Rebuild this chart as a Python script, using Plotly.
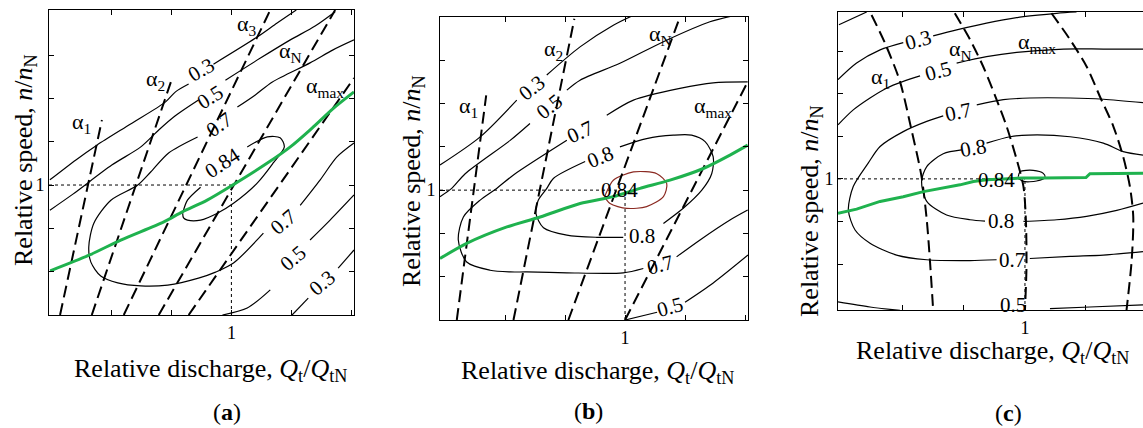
import plotly.graph_objects as go

# ---------------- Panel (a) data ----------------
A_GREEN_X = [0.394, 0.524, 0.630, 0.774, 0.836, 0.919, 1.000, 1.119, 1.197, 1.269, 1.341, 1.410]
A_GREEN_Y = [0.802, 0.838, 0.873, 0.915, 0.938, 0.965, 0.998, 1.050, 1.088, 1.131, 1.177, 1.215]

A_ALPHA1_X = [0.427, 0.567]; A_ALPHA1_Y = [0.70, 1.150]
A_ALPHA2_X = [0.533, 0.803]; A_ALPHA2_Y = [0.70, 1.249]
A_ALPHA3_X = [0.640, 1.130]; A_ALPHA3_Y = [0.70, 1.404]
A_ALPHAN_X = [0.757, 1.347]; A_ALPHAN_Y = [0.70, 1.404]
A_ALPHAMAX_X = [0.857, 1.410]; A_ALPHAMAX_Y = [0.70, 1.247]

A_C03U_X = [0.393, 0.48, 0.55, 0.663, 0.78, 0.813, 0.857, None, 0.94, 1.087, 1.153, 1.217]
A_C03U_Y = [1.012, 1.058, 1.092, 1.141, 1.192, 1.215, 1.233, None, 1.279, 1.342, 1.374, 1.404]
A_C05U_X = [0.393, 0.47, 0.6, 0.697, 0.757, 0.807, 0.89, None, 0.98, 1.097, 1.197, 1.28, 1.347]
A_C05U_Y = [0.942, 0.979, 1.046, 1.088, 1.127, 1.157, 1.196, None, 1.242, 1.293, 1.335, 1.367, 1.40]
A_C07_X = [1.41, 1.34, 1.263, 1.137, 1.08, 1.02, None, 0.887, 0.79, 0.73, 0.687, 0.597, 0.54, 0.523,
           0.53, 0.563, 0.62, 0.697, 0.787, 0.89, 0.947, 1.007, 1.107, None, 1.23, 1.297, 1.353, 1.41]
A_C07_Y = [1.335, 1.312, 1.282, 1.238, 1.208, 1.18, None, 1.111, 1.074, 1.03, 1.0, 0.965, 0.912, 0.857,
           0.822, 0.79, 0.774, 0.767, 0.769, 0.785, 0.799, 0.82, 0.889, None, 0.953, 1.012, 1.065, 1.097]
A_C084_X = [0.837, 0.853, 0.897, None, 1.053, 1.12, 1.163, 1.177, 1.14, 1.087, 1.007, 0.953, 0.897, 0.853, 0.84, 0.837]
A_C084_Y = [0.935, 0.965, 0.995, None, 1.088, 1.111, 1.109, 1.088, 1.051, 1.005, 0.958, 0.935, 0.919, 0.919, 0.924, 0.935]
A_C05L_X = [0.97, 1.053, 1.13, None, 1.263, 1.33, 1.41]
A_C05L_Y = [0.70, 0.716, 0.758, None, 0.873, 0.919, 0.977]
A_C03L_X = [1.203, 1.257, None, 1.357, 1.41]
A_C03L_Y = [0.70, 0.739, None, 0.808, 0.85]

A_LBL_TEXT = ["0.3", "0.5", "0.7", "0.84", "0.7", "0.5", "0.3"]
A_LBL_X = [0.897, 0.93, 0.957, 0.97, 1.173, 1.207, 1.303]
A_LBL_Y = [1.266, 1.203, 1.139, 1.051, 0.915, 0.831, 0.774]
A_LBL_ANG = [-30, -32, -35, -33, -40, -40, -40]

A_ALBL_TEXT = ["α<sub>1</sub>", "α<sub>2</sub>", "α<sub>3</sub>", "α<sub>N</sub>", "α<sub>max</sub>"]
A_ALBL_X = [0.497, 0.747, 1.053, 1.197, 1.313]
A_ALBL_Y = [1.143, 1.242, 1.370, 1.307, 1.226]

# ---------------- Panel (b) data ----------------
B_GREEN_X = [0.383, 0.472, 0.606, 0.717, 0.85, 0.961, 1.05, 1.15, 1.261, 1.35, 1.409]
B_GREEN_Y = [0.842, 0.877, 0.915, 0.938, 0.969, 0.985, 1.004, 1.023, 1.05, 1.081, 1.104]

B_ALPHA1_X = [0.439, 0.537]; B_ALPHA1_Y = [0.70, 1.219]
B_ALPHA2_X = [0.628, 0.831]; B_ALPHA2_Y = [0.70, 1.396]
B_ALPHAN_X = [0.811, 1.183]; B_ALPHAN_Y = [0.70, 1.40]
B_ALPHAMAX_X = [1.0, 1.409]; B_ALPHAMAX_Y = [0.70, 1.25]

B_C03_X = [0.383, 0.517, 0.639, None, 0.739, 0.85, 0.961, 1.028]
B_C03_Y = [1.058, 1.123, 1.208, None, 1.266, 1.331, 1.381, 1.404]
B_C05_X = [0.383, 0.422, 0.467, 0.617, 0.683, None, 0.806, 0.85, 0.983, 1.128, 1.283, 1.409]
B_C05_Y = [0.985, 1.004, 1.038, 1.115, 1.154, None, 1.231, 1.254, 1.293, 1.343, 1.389, 1.41]
B_C07_X = [1.409, 1.294, 1.183, 1.028, 0.939, None, 0.806, 0.628, 0.572, 0.517, 0.461, 0.444, 0.472, 0.55,
           0.617, 0.672, 0.806, 0.994, 1.061, None, 1.172, 1.25, 1.35, 1.409]
B_C07_Y = [1.25, 1.248, 1.235, 1.208, 1.173, None, 1.115, 1.035, 1.004, 0.977, 0.938, 0.885, 0.834, 0.815,
           0.811, 0.811, 0.809, 0.809, 0.819, None, 0.846, 0.885, 0.931, 0.954]
B_C08_X = [0.983, 1.072, 1.161, 1.222, 1.267, 1.294, 1.289, 1.256, 1.194, 1.128, None, 0.994, 0.906, 0.806,
           0.728, 0.703, 0.711, 0.739, 0.761, 0.867]
B_C08_Y = [1.1, 1.119, 1.127, 1.127, 1.112, 1.077, 1.038, 1.0, 0.958, 0.923, None, 0.891, 0.891, 0.896,
           0.913, 0.946, 0.977, 1.004, 1.027, 1.066]
B_C084_X = [0.939, 0.961, 1.028, 1.106, 1.139, 1.128, 1.072, 1.006, 0.95, 0.933, 0.939]
B_C084_Y = [0.996, 1.023, 1.042, 1.038, 1.015, 0.985, 0.962, 0.958, 0.969, 0.985, 0.996]
B_C05L_X = [1.0, 1.107, None, 1.2, 1.293, 1.41]
B_C05L_Y = [0.70, 0.718, None, 0.741, 0.785, 0.85]

B_LBL_TEXT = ["0.3", "0.5", "0.7", "0.8", "0.84", "0.8", "0.7", "0.5"]
B_LBL_X = [0.689, 0.745, 0.85, 0.917, 0.983, 1.056, 1.115, 1.15]
B_LBL_Y = [1.235, 1.193, 1.135, 1.077, 1.0, 0.893, 0.828, 0.729]
B_LBL_ANG = [-38, -38, -25, -22, 0, 0, -15, -15]

B_ALBL_TEXT = ["α<sub>1</sub>", "α<sub>2</sub>", "α<sub>N</sub>", "α<sub>max</sub>"]
B_ALBL_X = [0.478, 0.760, 1.117, 1.294]
B_ALBL_Y = [1.192, 1.323, 1.358, 1.192]

# ---------------- Panel (c) data ----------------
C_GREEN_X = [0.387, 0.448, 0.525, 0.601, 0.667, 0.732, 0.787, 0.831, 0.874, 0.929, 0.995, 1.06, 1.148, 1.2, 1.213, 1.387]
C_GREEN_Y = [0.919, 0.929, 0.947, 0.958, 0.97, 0.978, 0.986, 0.994, 0.998, 1.0, 1.002, 1.002, 1.003, 1.003, 1.012, 1.013]

C_ALPHA1_X = [0.497, 0.541, 0.59, 0.628, 0.661, 0.678, 0.689, 0.699]
C_ALPHA1_Y = [1.385, 1.319, 1.229, 1.115, 1.005, 0.904, 0.802, 0.692]
C_ALPHAN_X = [0.77, 0.82, 0.863, 0.907, 0.94, 0.973, 0.995, 1.003, 1.005, 1.0]
C_ALPHAN_Y = [1.389, 1.327, 1.264, 1.186, 1.123, 1.045, 0.982, 0.904, 0.794, 0.692]
C_ALPHAMAX_X = [1.087, 1.148, 1.202, 1.246, 1.29, 1.322, 1.344, 1.355, 1.35, 1.333]
C_ALPHAMAX_Y = [1.389, 1.327, 1.264, 1.193, 1.123, 1.052, 0.982, 0.912, 0.81, 0.692]

C_CTL_X = [0.39, 0.481]; C_CTL_Y = [1.362, 1.392]
C_C03_X = [0.387, 0.448, 0.525, 0.601, None, 0.699, 0.776, 0.874, 0.995, 1.104, 1.169]
C_C03_Y = [1.233, 1.272, 1.303, 1.32, None, 1.336, 1.35, 1.366, 1.381, 1.389, 1.392]
C_C05_X = [0.387, 0.437, 0.492, 0.546, 0.601, 0.656, None, 0.776, 0.874, 0.973, 1.126, 1.257, 1.387]
C_C05_Y = [1.127, 1.162, 1.19, 1.213, 1.229, 1.242, None, 1.272, 1.287, 1.297, 1.305, 1.305, 1.305]
C_C07_X = [1.387, 1.257, 1.148, 1.016, 0.929, 0.842, None, 0.732, 0.678, 0.601, 0.525, 0.486, 0.437, 0.421,
           0.443, 0.492, 0.579, 0.678, 0.82, 0.907, None, 1.016, 1.148, 1.257, 1.387]
C_C07_Y = [1.179, 1.187, 1.19, 1.19, 1.186, 1.174, None, 1.148, 1.135, 1.111, 1.076, 1.037, 0.982, 0.927,
           0.88, 0.849, 0.821, 0.81, 0.808, 0.81, None, 0.813, 0.818, 0.821, 0.829]
C_C08_X = [1.387, 1.322, 1.257, 1.148, 1.011, 0.951, 0.874, None, 0.792, 0.732, 0.678, 0.661, 0.678, 0.743,
           0.82, 0.869, None, 0.995, 1.104, 1.202, 1.301, 1.387]
C_C08_Y = [1.056, 1.064, 1.084, 1.099, 1.103, 1.099, 1.084, None, 1.068, 1.059, 1.029, 0.994, 0.947, 0.915,
           0.904, 0.901, None, 0.9, 0.904, 0.912, 0.926, 0.943]
C_C084_X = [0.978, 0.984, 1.027, 1.06, 1.066, 1.038, 0.995, 0.978]
C_C084_Y = [1.005, 1.017, 1.02, 1.013, 1.004, 0.995, 0.994, 1.002]
C_C05L_X = [0.387, 0.492, 0.59, None, 1.082, 1.213, 1.387]
C_C05L_Y = [0.711, 0.699, 0.691, None, 0.695, 0.699, 0.704]

C_LBL_TEXT = ["0.3", "0.5", "0.7", "0.8", "0.84", "0.8", "0.7", "0.5"]
C_LBL_X = [0.65, 0.716, 0.781, 0.831, 0.907, 0.923, 0.956, 0.961]
C_LBL_Y = [1.327, 1.254, 1.158, 1.072, 0.998, 0.9, 0.81, 0.703]
C_LBL_ANG = [-15, -15, -12, -10, 0, 0, 0, 0]

C_ALBL_TEXT = ["α<sub>1</sub>", "α<sub>N</sub>", "α<sub>max</sub>"]
C_ALBL_X = [0.525, 0.787, 1.038]
C_ALBL_Y = [1.236, 1.303, 1.319]

# ---------------- axes / tick labels ----------------
X_MAJOR = [1.0]
X_MAJOR_TEXT = ["1"]
X_MINOR = [0.6, 0.8, 1.2, 1.4]
Y_MAJOR = [1.0]
Y_MAJOR_TEXT = ["1"]
Y_MINOR = [0.8, 0.9, 1.1, 1.2, 1.3]

XLABEL = "Relative discharge, <i>Q</i><sub>t</sub>/<i>Q</i><sub>tN</sub>"
YLABEL = "Relative speed, <i>n</i>/<i>n</i><sub>N</sub>"
PANEL_LABELS = ["(<b>a</b>)", "(<b>b</b>)", "(<b>c</b>)"]

W, H = 1143, 428
SERIF = "Liberation Serif, Times New Roman, serif"
GREEN = "#1fb24e"
DASH = "12px,6px"

fig = go.Figure()


def line(x, y, ax, color="black", width=1.2, dash="solid", smooth=True):
    fig.add_trace(go.Scatter(x=x, y=y, mode="lines", xaxis="x" + ax, yaxis="y" + ax,
                             line=dict(color=color, width=width, dash=dash,
                                       shape=("spline" if smooth else "linear"),
                                       smoothing=0.8),
                             hoverinfo="skip", showlegend=False))


def labels(texts, xs, ys, ax, angles=None, size=21):
    for i, t in enumerate(texts):
        fig.add_annotation(x=xs[i], y=ys[i], xref="x" + ax, yref="y" + ax, text=t,
                           showarrow=False, textangle=(angles[i] if angles else 0),
                           xanchor="center", yanchor="middle",
                           font=dict(family=SERIF, size=size, color="black"))


def dotted(ax, xmin, ymin):
    line([xmin, 1.0], [1.0, 1.0], ax, width=1, dash="dot", smooth=False)
    line([1.0, 1.0], [ymin, 1.0], ax, width=1, dash="dot", smooth=False)


# Panel a
line(A_C03U_X, A_C03U_Y, "")
line(A_C05U_X, A_C05U_Y, "")
line(A_C07_X, A_C07_Y, "")
line(A_C084_X, A_C084_Y, "")
line(A_C05L_X, A_C05L_Y, "")
line(A_C03L_X, A_C03L_Y, "")
dotted("", 0.39, 0.70)
for xs, ys in [(A_ALPHA1_X, A_ALPHA1_Y), (A_ALPHA2_X, A_ALPHA2_Y), (A_ALPHA3_X, A_ALPHA3_Y),
               (A_ALPHAN_X, A_ALPHAN_Y), (A_ALPHAMAX_X, A_ALPHAMAX_Y)]:
    line(xs, ys, "", width=2, dash=DASH, smooth=False)
line(A_GREEN_X, A_GREEN_Y, "", color=GREEN, width=3)
labels(A_LBL_TEXT, A_LBL_X, A_LBL_Y, "", A_LBL_ANG)
labels(A_ALBL_TEXT, A_ALBL_X, A_ALBL_Y, "", size=22)

# Panel b
line(B_C03_X, B_C03_Y, "2")
line(B_C05_X, B_C05_Y, "2")
line(B_C07_X, B_C07_Y, "2")
line(B_C08_X, B_C08_Y, "2")
line(B_C084_X, B_C084_Y, "2", color="#8b2a22")
line(B_C05L_X, B_C05L_Y, "2")
dotted("2", 0.383, 0.70)
for xs, ys in [(B_ALPHA1_X, B_ALPHA1_Y), (B_ALPHA2_X, B_ALPHA2_Y), (B_ALPHAN_X, B_ALPHAN_Y),
               (B_ALPHAMAX_X, B_ALPHAMAX_Y)]:
    line(xs, ys, "2", width=2, dash=DASH, smooth=False)
line(B_GREEN_X, B_GREEN_Y, "2", color=GREEN, width=3)
labels(B_LBL_TEXT, B_LBL_X, B_LBL_Y, "2", B_LBL_ANG)
labels(B_ALBL_TEXT, B_ALBL_X, B_ALBL_Y, "2", size=22)

# Panel c
line(C_CTL_X, C_CTL_Y, "3")
line(C_C03_X, C_C03_Y, "3")
line(C_C05_X, C_C05_Y, "3")
line(C_C07_X, C_C07_Y, "3")
line(C_C08_X, C_C08_Y, "3")
line(C_C084_X, C_C084_Y, "3")
line(C_C05L_X, C_C05L_Y, "3")
dotted("3", 0.387, 0.692)
for xs, ys in [(C_ALPHA1_X, C_ALPHA1_Y), (C_ALPHAN_X, C_ALPHAN_Y), (C_ALPHAMAX_X, C_ALPHAMAX_Y)]:
    line(xs, ys, "3", width=2, dash=DASH)
line(C_GREEN_X, C_GREEN_Y, "3", color=GREEN, width=3, smooth=False)
labels(C_LBL_TEXT, C_LBL_X, C_LBL_Y, "3", C_LBL_ANG)
labels(C_ALBL_TEXT, C_ALBL_X, C_ALBL_Y, "3", size=22)


def px(v):
    return v / W


def py(v):
    return 1 - v / H


def axis(dom, rng, anchor, major, major_text, minor, standoff, mirror="ticks"):
    return dict(domain=dom, range=rng, anchor=anchor, showline=True, linecolor="black", linewidth=1,
                mirror=mirror, ticks="inside", ticklen=5, tickcolor="black", tickwidth=1,
                tickvals=major, ticktext=major_text, showgrid=False, zeroline=False,
                minor=dict(tickvals=minor, ticks="inside", ticklen=5, tickcolor="black",
                           tickwidth=1, showgrid=False),
                ticklabelstandoff=standoff, tickfont=dict(family=SERIF, size=18, color="black"))


fig.update_layout(
    width=W, height=H, margin=dict(l=0, r=0, t=0, b=0),
    paper_bgcolor="white", plot_bgcolor="white", showlegend=False,
    xaxis=axis([px(49), px(354)], [0.39, 1.41], "y", X_MAJOR, X_MAJOR_TEXT, X_MINOR, 1),
    yaxis=axis([py(315), py(10)], [0.70, 1.404], "x", Y_MAJOR, Y_MAJOR_TEXT, Y_MINOR, 0),
    xaxis2=axis([px(440), px(748)], [0.383, 1.41], "y2", X_MAJOR, X_MAJOR_TEXT, X_MINOR, 1),
    yaxis2=axis([py(320), py(17)], [0.70, 1.40], "x2", Y_MAJOR, Y_MAJOR_TEXT, Y_MINOR, 0),
    xaxis3=axis([px(838), 1.0], [0.387, 1.387], "y3", X_MAJOR, X_MAJOR_TEXT, X_MINOR, 1),
    yaxis3=axis([py(310), py(12)], [0.692, 1.392], "x3", Y_MAJOR, Y_MAJOR_TEXT, Y_MINOR, 0, mirror=False),
)

# axis titles and panel letters (paper coordinates)
XL_POS = [(210, 370), (598, 372), (992, 352)]
YL_POS = [(25, 160), (413, 181), (811, 211)]
PL_POS = [(227, 412), (588, 411), (1008, 413)]
for (xx, yy) in XL_POS:
    fig.add_annotation(x=px(xx), y=py(yy), xref="paper", yref="paper", text=XLABEL, showarrow=False,
                       xanchor="center", yanchor="middle",
                       font=dict(family=SERIF, size=26, color="black"))
for (xx, yy) in YL_POS:
    fig.add_annotation(x=px(xx), y=py(yy), xref="paper", yref="paper", text=YLABEL, showarrow=False,
                       textangle=-90, xanchor="center", yanchor="middle",
                       font=dict(family=SERIF, size=26, color="black"))
for (xx, yy), t in zip(PL_POS, PANEL_LABELS):
    fig.add_annotation(x=px(xx), y=py(yy), xref="paper", yref="paper", text=t, showarrow=False,
                       xanchor="center", yanchor="middle",
                       font=dict(family=SERIF, size=24, color="black"))

fig.write_html("out.html")
